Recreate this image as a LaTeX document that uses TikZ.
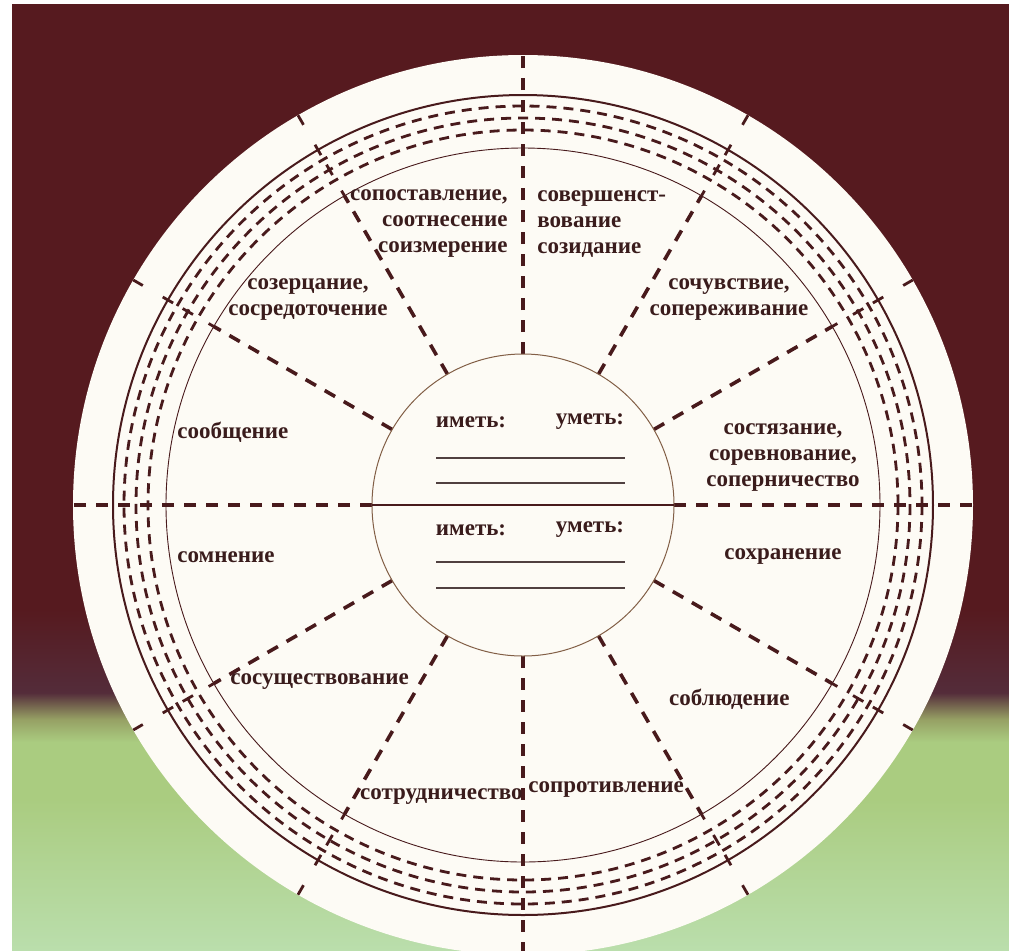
\documentclass[tikz,border=0pt]{standalone}
\usepackage{fontspec}
\setmainfont{Liberation Serif}
\usetikzlibrary{calc}
\definecolor{bgmaroon}{RGB}{86,26,31}
\definecolor{bgpurple}{RGB}{84,44,58}
\definecolor{bgolive}{RGB}{150,160,100}
\definecolor{bggreen}{RGB}{170,204,128}
\definecolor{bglight}{RGB}{186,222,172}
\definecolor{disc}{RGB}{253,251,245}
\definecolor{linebrown}{RGB}{72,26,28}
\definecolor{textbrown}{RGB}{58,28,28}
\definecolor{innerbrown}{RGB}{130,95,70}
\definecolor{writegray}{RGB}{80,64,64}
\pgfdeclareverticalshading{bgshade}{100bp}{color(0bp)=(bglight); color(25bp)=(bglight); color(33bp)=(bggreen); color(36bp)=(bggreen); color(37.2bp)=(bgolive); color(38.6bp)=(bgpurple); color(43bp)=(bgmaroon); color(100bp)=(bgmaroon)}
\tikzset{
    spoke/.style={draw=linebrown,line width=1.8pt,dash pattern=on 6pt off 5pt},
    ringdash/.style={draw=linebrown,line width=1.4pt,dash pattern=on 5pt off 3.5pt},
    ringline/.style={draw=linebrown,line width=1pt},
    thinring/.style={draw=linebrown,line width=0.45pt},
    ringtick/.style={draw=linebrown,line width=1.4pt},
    writeline/.style={draw=writegray,line width=0.7pt},
    sector/.style={font=\bfseries\fontsize{11.5}{13}\selectfont,text=textbrown,inner sep=0pt}
}
\begin{document}
\begin{tikzpicture}[x=0.5pt,y=-0.5pt]
  \useasboundingbox (0,0) rectangle (1009,950);
  \clip (0,0) rectangle (1009,950);
  % background
  \fill[white] (0,0) rectangle (1009,950);
  \shade[shading=bgshade] (12,4) rectangle (1009,950);
  \coordinate (C) at (523,505);
  % disc and rings
  \fill[disc] (C) circle[radius=450];
  \draw[ringline] (C) circle[radius=410];
  \foreach \r in {399,387,375}{\draw[ringdash] (C) circle[radius=\r];}
  \draw[thinring] (C) circle[radius=357];
  % spokes
  \foreach \a in {0,90,180,270}{
    \draw[spoke] ($(C)+(\a:151)$) -- ($(C)+(\a:450)$);
  }
  \foreach \a in {30,60,120,150,210,240,300,330}{
    \draw[spoke] ($(C)+(\a:151)$) -- ($(C)+(\a:357)$);
    \foreach \r [evaluate=\r as \ra using \r-6, evaluate=\r as \rb using \r+6] in {357,387,410}{
      \draw[ringtick] ($(C)+(\a:\ra)$) -- ($(C)+(\a:\rb)$);
    }
    \draw[ringtick] ($(C)+(\a:439)$) -- ($(C)+(\a:450)$);
  }
  % centre circle
  \draw[draw=innerbrown,line width=0.5pt] (C) circle[radius=151];
  \draw[thinring,line width=0.6pt] ($(C)+(180:151)$) -- ($(C)+(0:151)$);
  \node[sector] (have1) at (471,422) {иметь:};
  \node[sector] (can1) at (590,422) {уметь:};
  \node[sector] (have2) at (471,530) {иметь:};
  \node[sector] (can2) at (590,530) {уметь:};
  \foreach \y in {458,483,562,588}{\draw[writeline] (436,\y) -- (625,\y);}
  % sectors
  \node[sector,align=right,anchor=east] (compare) at (508,224) {сопоставление,\\соотнесение\\соизмерение};
  \node[sector,align=left,anchor=west] (perfect) at (537,224) {совершенст-\\вование\\созидание};
  \node[sector,align=center] (contemplate) at (308,300) {созерцание,\\сосредоточение};
  \node[sector,align=center] (sympathy) at (729,300) {сочувствие,\\сопереживание};
  \node[sector,anchor=west] (message) at (177,432) {сообщение};
  \node[sector,align=center] (contest) at (783,458) {состязание,\\соревнование,\\соперничество};
  \node[sector,anchor=west] (doubt) at (177,557) {сомнение};
  \node[sector] (keep) at (783,557) {сохранение};
  \node[sector,anchor=west] (coexist) at (230,682) {сосуществование};
  \node[sector,anchor=east] (observe) at (790,699) {соблюдение};
  \node[sector,anchor=east] (cooperate) at (523,797) {сотрудничество};
  \node[sector,anchor=west] (resist) at (528,790) {сопротивление};
\end{tikzpicture}
\end{document}
